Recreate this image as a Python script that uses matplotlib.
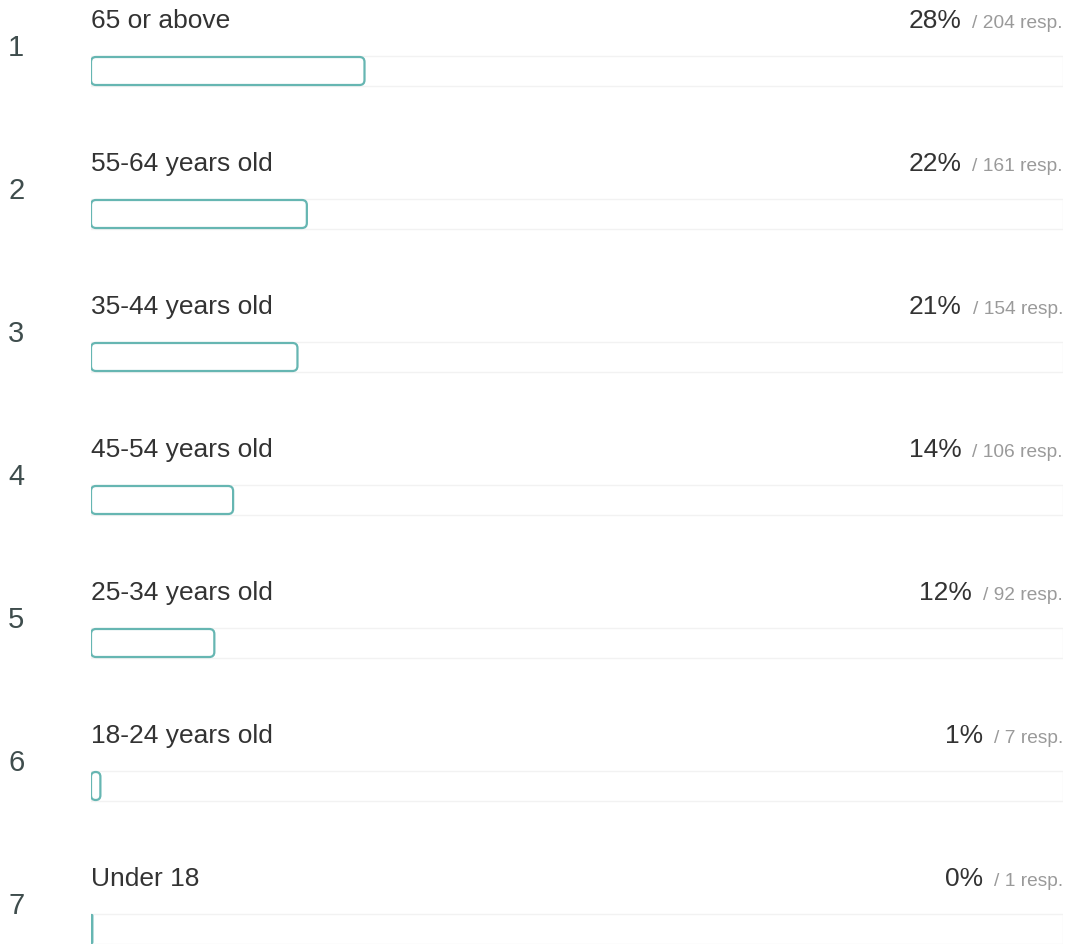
import matplotlib
matplotlib.use("Agg")
import matplotlib.pyplot as plt
import matplotlib.transforms as mtransforms
from matplotlib.patches import FancyBboxPatch, Rectangle

# Age group survey results
ranks = [1, 2, 3, 4, 5, 6, 7]
groups = ["65 or above", "55-64 years old", "35-44 years old", "45-54 years old",
          "25-34 years old", "18-24 years old", "Under 18"]
responses = [204, 161, 154, 106, 92, 7, 1]
percents = [28, 22, 21, 14, 12, 1, 0]

total = sum(responses)

plt.rcParams['font.family'] = ['Liberation Sans', 'DejaVu Sans']

W, H = 1072, 945
fig = plt.figure(figsize=(W / 100, H / 100), dpi=100)
fig.patch.set_facecolor("white")

# layout in pixels
track_left, track_right = 91, 1063
row_top, row_step = 72, 143
bar_h = 28
radius = 5

ax = fig.add_axes([track_left / W, 0, (track_right - track_left) / W, 1])
ax.set_xlim(0, 1)
ax.set_ylim((H - row_top) / row_step, -row_top / row_step)
ax.axis("off")

px_x = 1 / (track_right - track_left)
px_y = 1 / row_step
aspect = px_y / px_x

teal = "#66b6b2"
rank_tf = mtransforms.blended_transform_factory(fig.transFigure, ax.transData)

fig.canvas.draw()
renderer = fig.canvas.get_renderer()

for i, (rk, grp, n, pct) in enumerate(zip(ranks, groups, responses, percents)):
    # light background track
    ax.add_patch(Rectangle((0, i - (bar_h + 2) / 2 * px_y), 1, (bar_h + 2) * px_y,
                           facecolor="white", edgecolor="#f2f2f2", lw=1, zorder=1))
    # response bar
    w = n / total
    r = min(radius * px_x, w / 2)
    ax.add_patch(FancyBboxPatch((0, i - bar_h / 2 * px_y), w, bar_h * px_y,
                                boxstyle=f"round,pad=0,rounding_size={r}",
                                mutation_aspect=aspect,
                                facecolor="white", edgecolor=teal, lw=1.6, zorder=2))

    base = i - 44 * px_y
    ax.text(0, base, grp, fontsize=19, color="#333333", va="baseline", ha="left")
    t = ax.text(1, base, f"/ {n} resp.", fontsize=13.8, color="#9a9a9a",
                va="baseline", ha="right")
    bb = t.get_window_extent(renderer)
    x_left = ax.transData.inverted().transform((bb.x0, 0))[0]
    ax.text(x_left - 11 * px_x, base, f"{pct}%", fontsize=19, color="#333333",
            va="baseline", ha="right")

    ax.text(8 / W, i - 16 * px_y, str(rk), fontsize=21, color="#3f4d4d",
            va="baseline", ha="left", transform=rank_tf)

fig.savefig("out.png", dpi=100, facecolor="white")
